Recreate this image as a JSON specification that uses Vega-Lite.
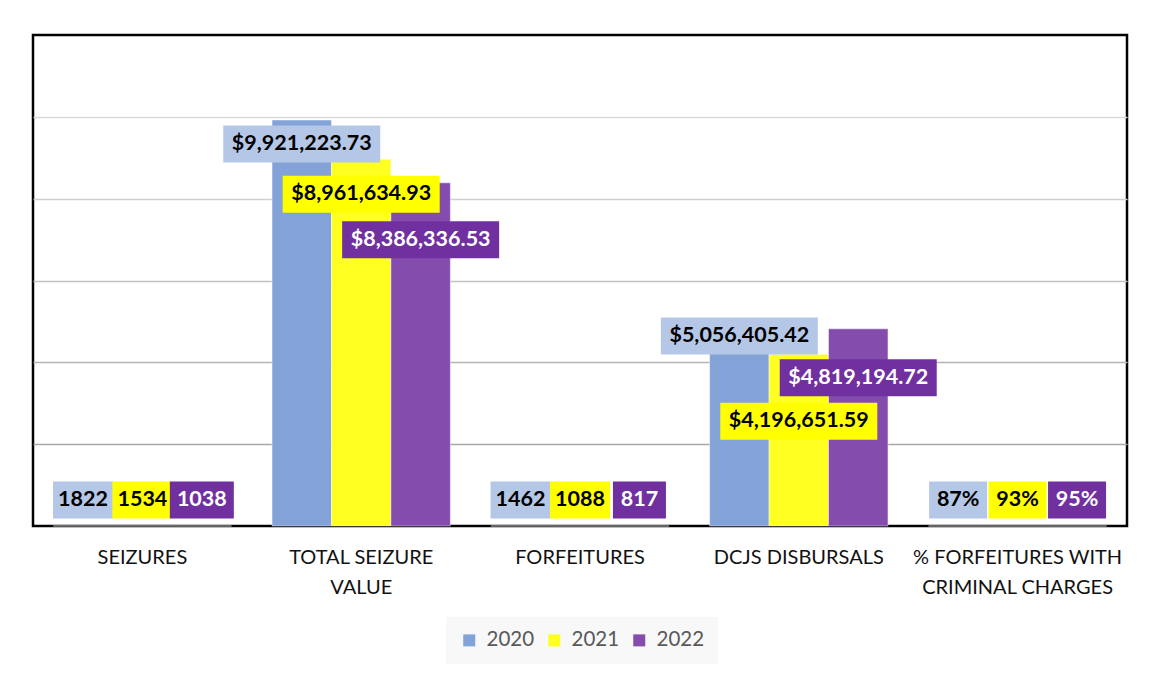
{
  "$schema": "https://vega.github.io/schema/vega-lite/v6.json",
  "autosize": {"type": "none"},
  "padding": {"left": 33, "top": 35, "right": 29, "bottom": 147},
  "width": 1094,
  "height": 491,
  "background": "white",
  "config": {
    "view": {"stroke": "#000000", "strokeWidth": 2.5, "fill": "white"},
    "font": "Lato"
  },
  "data": {
    "values": [
      {"cat": "SEIZURES", "year": "2020", "value": 1822},
      {"cat": "SEIZURES", "year": "2021", "value": 1534},
      {"cat": "SEIZURES", "year": "2022", "value": 1038},
      {"cat": "TOTAL SEIZURE VALUE", "year": "2020", "value": 9921223.73},
      {"cat": "TOTAL SEIZURE VALUE", "year": "2021", "value": 8961634.93},
      {"cat": "TOTAL SEIZURE VALUE", "year": "2022", "value": 8386336.53},
      {"cat": "FORFEITURES", "year": "2020", "value": 1462},
      {"cat": "FORFEITURES", "year": "2021", "value": 1088},
      {"cat": "FORFEITURES", "year": "2022", "value": 817},
      {"cat": "DCJS DISBURSALS", "year": "2020", "value": 5056405.42},
      {"cat": "DCJS DISBURSALS", "year": "2021", "value": 4196651.59},
      {"cat": "DCJS DISBURSALS", "year": "2022", "value": 4819194.72},
      {"cat": "% FORFEITURES WITH CRIMINAL CHARGES", "year": "2020", "value": 0.87},
      {"cat": "% FORFEITURES WITH CRIMINAL CHARGES", "year": "2021", "value": 0.93},
      {"cat": "% FORFEITURES WITH CRIMINAL CHARGES", "year": "2022", "value": 0.95}
    ]
  },
  "encoding": {
    "x": {
      "field": "cat",
      "type": "nominal",
      "sort": null,
      "scale": {"paddingInner": 0.185, "paddingOuter": 0.0925},
      "axis": {
        "title": null,
        "domain": false,
        "ticks": false,
        "labelAngle": 0,
        "labelFont": "Lato",
        "labelFontSize": 20,
        "labelColor": "#111111",
        "labelPadding": 21,
        "labelLineHeight": 30,
        "labelLimit": 400,
        "labelExpr": "datum.value === 'TOTAL SEIZURE VALUE' ? ['TOTAL SEIZURE', 'VALUE'] : datum.value === '% FORFEITURES WITH CRIMINAL CHARGES' ? ['% FORFEITURES WITH', 'CRIMINAL CHARGES'] : datum.value"
      }
    },
    "xOffset": {"field": "year", "type": "nominal", "sort": ["2020", "2021", "2022"], "scale": {"paddingInner": 0, "paddingOuter": 0}},
    "y": {
      "field": "value",
      "type": "quantitative",
      "scale": {"domain": [0, 12000000], "nice": false, "zero": true},
      "axis": {
        "title": null,
        "labels": false,
        "ticks": false,
        "domain": false,
        "grid": true,
        "values": [2000000, 4000000, 6000000, 8000000, 10000000],
        "gridWidth": 1.6,
        "gridColor": {
          "condition": [
            {"test": "datum.value >= 10000000", "value": "#D9D9D9"},
            {"test": "datum.value >= 8000000", "value": "#CFCFCF"},
            {"test": "datum.value >= 6000000", "value": "#C2C2C2"},
            {"test": "datum.value >= 4000000", "value": "#B5B5B5"}
          ],
          "value": "#A8A8A8"
        }
      }
    }
  },
  "layer": [
    {
      "mark": {"type": "bar", "stroke": "#ffffff", "strokeWidth": 1, "strokeOpacity": 0.45},
      "encoding": {
        "color": {
          "field": "year",
          "type": "nominal",
          "sort": ["2020", "2021", "2022"],
          "scale": {"domain": ["2020", "2021", "2022"], "range": ["#82A2D8", "#FFFF22", "#844CAC"]},
          "legend": {
            "title": null,
            "orient": "none",
            "legendX": 413,
            "legendY": 582,
            "direction": "horizontal",
            "symbolType": "square",
            "symbolSize": 144,
            "symbolStrokeWidth": 0,
            "labelFont": "Lato",
            "labelFontSize": 20.5,
            "labelColor": "#595959",
            "labelOffset": 7,
            "fillColor": "#F8F8F8",
            "padding": 13,
            "columnPadding": 9
          }
        }
      }
    },
    {
      "mark": {
        "type": "rect",
        "width": {"expr": "datum.cat === 'TOTAL SEIZURE VALUE' || datum.cat === 'DCJS DISBURSALS' ? 157 : datum.cat === 'FORFEITURES' && datum.year === '2022' ? 53 : datum.cat === 'SEIZURES' && datum.year === '2022' ? 64 : datum.cat === '% FORFEITURES WITH CRIMINAL CHARGES' ? 58 : 60"},
        "yOffset": {"expr": "(datum.cat === 'TOTAL SEIZURE VALUE' ? (datum.year === '2020' ? 24 : datum.year === '2021' ? 35 : 57) : datum.cat === 'DCJS DISBURSALS' ? (datum.year === '2020' ? 17 : datum.year === '2021' ? 67 : 49) : -26) - 18.5"},
        "y2Offset": {"expr": "(datum.cat === 'TOTAL SEIZURE VALUE' ? (datum.year === '2020' ? 24 : datum.year === '2021' ? 35 : 57) : datum.cat === 'DCJS DISBURSALS' ? (datum.year === '2020' ? 17 : datum.year === '2021' ? 67 : 49) : -26) + 18.5"},
        "fill": {"expr": "datum.year === '2020' ? '#B4C7E7' : datum.year === '2021' ? '#FFFF00' : '#7030A0'"}
      },
      "encoding": {
        "y2": {"field": "value"}
      }
    },
    {
      "transform": [
        {"calculate": "datum.cat === 'TOTAL SEIZURE VALUE' || datum.cat === 'DCJS DISBURSALS' ? format(datum.value, '$,.2f') : datum.cat === '% FORFEITURES WITH CRIMINAL CHARGES' ? format(datum.value, '.0%') : format(datum.value, 'd')", "as": "label"}
      ],
      "mark": {
        "type": "text",
        "font": "Lato",
        "fontWeight": "bold",
        "fontSize": 21.5,
        "align": "center",
        "baseline": "middle",
        "dy": {"expr": "datum.cat === 'TOTAL SEIZURE VALUE' ? (datum.year === '2020' ? 24 : datum.year === '2021' ? 35 : 57) : datum.cat === 'DCJS DISBURSALS' ? (datum.year === '2020' ? 17 : datum.year === '2021' ? 67 : 49) : -26"},
        "fill": {"expr": "datum.year === '2022' ? '#FFFFFF' : '#000000'"}
      },
      "encoding": {
        "text": {"field": "label"}
      }
    }
  ]
}
